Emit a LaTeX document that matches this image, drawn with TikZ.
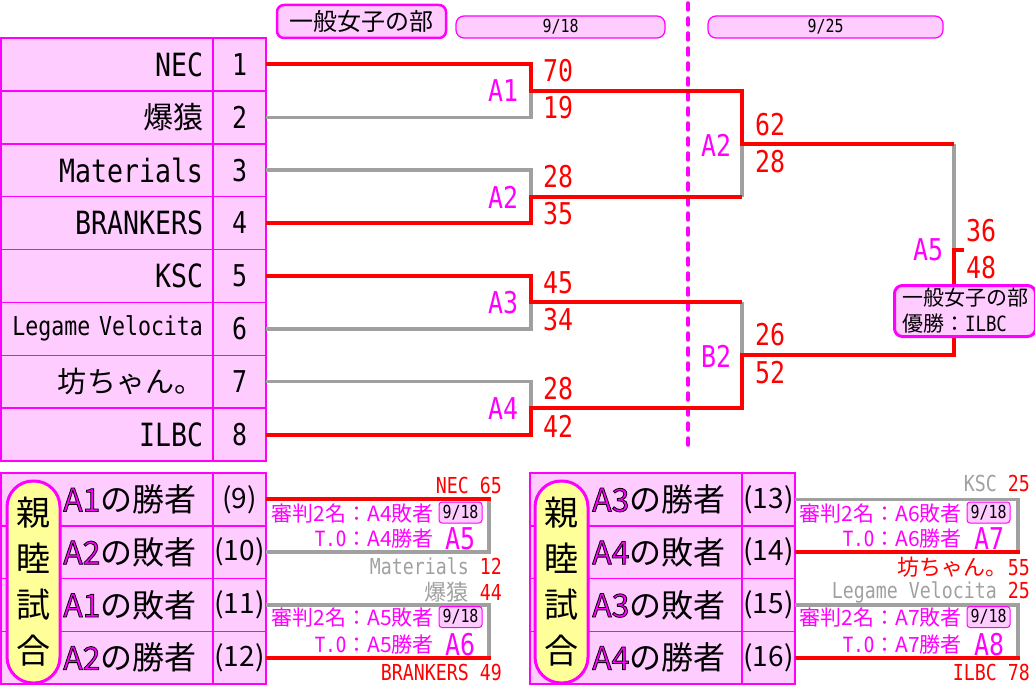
\documentclass[tikz,border=0pt]{standalone}
\usepackage{fontspec}
\setmainfont{Noto Sans CJK JP}
\newfontfamily\mono[FakeStretch=0.83]{DejaVu Sans Mono}
\newcommand\fs[1]{\fontsize{#1pt}{#1pt}\selectfont}
\definecolor{pinkf}{HTML}{FFCCFF}
\definecolor{mag}{HTML}{FF00FF}
\definecolor{rd}{HTML}{FF0000}
\definecolor{gry}{HTML}{A0A0A0}
\definecolor{yel}{HTML}{FFFF99}
\newcommand\olt[1]{\textcolor{mag}{\special{pdf:literal direct 0 0 0 RG 0.8 w 2 Tr}#1\special{pdf:literal direct 0 Tr}}}
\begin{document}
\begin{tikzpicture}[x=1pt,y=-1pt,
 ncell/.style={draw=mag, fill=pinkf, line width=1.5pt, minimum width=212pt, minimum height=52.875pt, inner sep=0pt, outer sep=0pt, text width=192pt, align=right},
 ccell/.style={draw=mag, fill=pinkf, line width=1.5pt, minimum width=53pt, minimum height=52.875pt, inner sep=0pt, outer sep=0pt, font=\mono\fs{30}},
 bcell/.style={draw=mag, fill=pinkf, line width=1.5pt, minimum width=212pt, minimum height=52.75pt, inner sep=0pt, outer sep=0pt},
 pcell/.style={draw=mag, fill=pinkf, line width=1.5pt, minimum width=53pt, minimum height=52.75pt, inner sep=0pt, outer sep=0pt, font=\fs{28}},
 capsule/.style={draw=mag, fill=yel, line width=3pt, rounded corners=26pt, minimum width=53pt, minimum height=202pt, inner sep=0pt},
 captext/.style={font=\fontsize{34pt}{46pt}\selectfont, align=center, inner sep=0pt},
 rowtext/.style={anchor=west, font=\fs{32}, inner sep=0pt},
 rl/.style={draw=rd, line width=4pt},
 gl/.style={draw=gry, line width=3.5pt},
 scoretxt/.style={anchor=west, text=rd, font=\mono\fs{30}, inner sep=0pt},
 mlabel/.style={text=mag, font=\mono\fs{30}, inner sep=0pt},
 hbox/.style={draw=mag, fill=pinkf, line width=2.5pt, rounded corners=7pt, minimum width=169pt, minimum height=33pt, inner sep=0pt, font=\fs{24}},
 dbox/.style={draw=mag, fill=pinkf, line width=1.2pt, rounded corners=8pt, minimum height=22pt, inner sep=0pt, font=\mono\fs{18}},
 sbox/.style={draw=mag, fill=pinkf, line width=1pt, rounded corners=3pt, minimum width=43pt, minimum height=21pt, inner sep=0pt, font=\mono\fs{18}},
 finbox/.style={draw=mag, fill=pinkf, line width=3pt, rounded corners=8pt, minimum width=141pt, minimum height=51pt, inner sep=0pt, align=left, font=\fontsize{21pt}{26pt}\selectfont},
 notetxt/.style={anchor=east, text=mag, font=\fs{21}, inner sep=0pt},
 sidelbl/.style={anchor=east, font=\mono\fs{22}, inner sep=0pt},
 dashline/.style={draw=mag, line width=3.5pt, dash pattern=on 7pt off 8pt, line cap=round}
]
\useasboundingbox (0,0) rectangle (1035,687);

% ---------- header ----------
\node[hbox] (hdr) at (361.5,21.5) {一般女子の部};
\node[dbox, minimum width=209pt] (d1) at (560.5,27) {9/18};
\node[dbox, minimum width=235pt] (d2) at (825.5,27) {9/25};

% ---------- top table ----------
\node[ncell, font=\mono\fs{32}] (n1) at (107,64.44) {NEC};
\node[ncell, font=\fs{30}] (n2) at (107,117.31) {爆猿};
\node[ncell, font=\mono\fs{32}] (n3) at (107,170.19) {Materials};
\node[ncell, font=\mono\fs{32}] (n4) at (107,223.06) {BRANKERS};
\node[ncell, font=\mono\fs{32}] (n5) at (107,275.94) {KSC};
\node[ncell, font=\mono\fs{26}] (n6) at (107,328.81) {Legame Velocita};
\node[ncell, font=\fs{29}] (n7) at (107,381.69) {坊ちゃん。};
\node[ncell, font=\mono\fs{32}] (n8) at (107,434.56) {ILBC};
\node[ccell] (s1) at (239.5,64.44) {1};
\node[ccell] (s2) at (239.5,117.31) {2};
\node[ccell] (s3) at (239.5,170.19) {3};
\node[ccell] (s4) at (239.5,223.06) {4};
\node[ccell] (s5) at (239.5,275.94) {5};
\node[ccell] (s6) at (239.5,328.81) {6};
\node[ccell] (s7) at (239.5,381.69) {7};
\node[ccell] (s8) at (239.5,434.56) {8};

% ---------- bracket junctions ----------
\coordinate (j1) at (531,90.88);
\coordinate (j2) at (531,196.63);
\coordinate (j3) at (531,302.38);
\coordinate (j4) at (531,408.13);
\coordinate (k1) at (742,143.75);
\coordinate (k2) at (742,355.25);
\coordinate (f) at (954,249.5);
\coordinate (fs) at (964,249.5);

\coordinate (dt) at (688,3);
\coordinate (db) at (688,452);
\draw[dashline] (dt) -- (db);

% losers (gray)
\draw[gl] (s2.east) -| (j1);
\draw[gl] (s3.east) -| (j2);
\draw[gl] (s6.east) -| (j3);
\draw[gl] (s7.east) -| (j4);
\draw[gl] (j2 -| k1) -- (k1);
\draw[gl] (j3 -| k2) -- (k2);
\draw[gl] (k1 -| f) -- (f);
% winners (red)
\draw[rl] (s1.east) -| (j1) -| (k1) -- (k1 -| f);
\draw[rl] (s4.east) -| (j2) -- (j2 -| k1);
\draw[rl] (s5.east) -| (j3) -- (j3 -| k2);
\draw[rl] (s8.east) -| (j4) -| (k2) -| (f) -- (fs);

% match labels
\node[mlabel] (m1) at (503,91) {A1};
\node[mlabel] (m2) at (503,197) {A2};
\node[mlabel] (m3) at (503,303) {A3};
\node[mlabel] (m4) at (503,409) {A4};
\node[mlabel] (m5) at (716,145) {A2};
\node[mlabel] (m6) at (716,356) {B2};
\node[mlabel] (m7) at (928,250) {A5};

% scores
\node[scoretxt] (c1) at (543,71) {70};
\node[scoretxt] (c2) at (543,108) {19};
\node[scoretxt] (c3) at (543,177) {28};
\node[scoretxt] (c4) at (543,214) {35};
\node[scoretxt] (c5) at (543,283) {45};
\node[scoretxt] (c6) at (543,320) {34};
\node[scoretxt] (c7) at (543,389) {28};
\node[scoretxt] (c8) at (543,426) {42};
\node[scoretxt] (c9) at (755,124.5) {62};
\node[scoretxt] (c10) at (755,162) {28};
\node[scoretxt] (c11) at (755,335) {26};
\node[scoretxt] (c12) at (755,373) {52};
\node[scoretxt] (c13) at (966,230.5) {36};
\node[scoretxt] (c14) at (966,268) {48};

\node[finbox, anchor=north west] (fin) at (893,284) {一般女子の部\\優勝：{\mono ILBC}};

% ---------- bottom-left table ----------
\node[bcell] (b1) at (107,499.38) {};
\node[bcell] (b2) at (107,552.13) {};
\node[bcell] (b3) at (107,604.88) {};
\node[bcell] (b4) at (107,657.63) {};
\node[pcell] (p1) at (239.5,499.38) {(9)};
\node[pcell] (p2) at (239.5,552.13) {(10)};
\node[pcell] (p3) at (239.5,604.88) {(11)};
\node[pcell] (p4) at (239.5,657.63) {(12)};
\node[capsule] (cap1) at (33.5,582) {};
\node[captext] (ct1) at (33.5,582) {親\\睦\\試\\合};
\node[rowtext] (bt1) at (63,499.38) {\olt{A1}の勝者};
\node[rowtext] (bt2) at (63,552.13) {\olt{A2}の敗者};
\node[rowtext] (bt3) at (63,604.88) {\olt{A1}の敗者};
\node[rowtext] (bt4) at (63,657.63) {\olt{A2}の勝者};

\coordinate (e5) at (489,525.75);
\coordinate (e6) at (489,631.25);
\draw[gl] (p2.east) -| (p1.east -| e5);
\draw[rl, shorten >=-1.75pt] (p1.east) -- (p1.east -| e5);
\draw[gl] (p3.east) -| (p4.east -| e6);
\draw[rl, shorten >=-1.75pt] (p4.east) -- (p4.east -| e6);

\node[sidelbl, text=rd] (w5) at (502,485) {NEC 65};
\node[sidelbl] (l5) at (502,566) {\color{gry}Materials \color{rd}12};
\node[sidelbl] (l6) at (502,592) {{\rmfamily\color{gry}爆猿} \color{rd}44};
\node[sidelbl, text=rd] (w6) at (502,672) {BRANKERS 49};

\node[notetxt] (r5a) at (434,514) {審判2名：A4敗者};
\node[sbox] (x5) at (460.5,512.5) {9/18};
\node[notetxt] (r5b) at (434,539) {{\mono T.O}：A4勝者};
\node[mlabel] (a5) at (460,539) {A5};
\node[notetxt] (r6a) at (434,618) {審判2名：A5敗者};
\node[sbox] (x6) at (460.5,617) {9/18};
\node[notetxt] (r6b) at (434,645) {{\mono T.O}：A5勝者};
\node[mlabel] (a6) at (460,645) {A6};

% ---------- bottom-right table ----------
\node[bcell] (b5) at (636,499.38) {};
\node[bcell] (b6) at (636,552.13) {};
\node[bcell] (b7) at (636,604.88) {};
\node[bcell] (b8) at (636,657.63) {};
\node[pcell] (q1) at (768.5,499.38) {(13)};
\node[pcell] (q2) at (768.5,552.13) {(14)};
\node[pcell] (q3) at (768.5,604.88) {(15)};
\node[pcell] (q4) at (768.5,657.63) {(16)};
\node[capsule] (cap2) at (561.5,582) {};
\node[captext] (ct2) at (561.5,582) {親\\睦\\試\\合};
\node[rowtext] (bt5) at (592,499.38) {\olt{A3}の勝者};
\node[rowtext] (bt6) at (592,552.13) {\olt{A4}の敗者};
\node[rowtext] (bt7) at (592,604.88) {\olt{A3}の敗者};
\node[rowtext] (bt8) at (592,657.63) {\olt{A4}の勝者};

\coordinate (e7) at (1018,525.75);
\coordinate (e8) at (1018,631.25);
\draw[gl] (q1.east) -| (q2.east -| e7);
\draw[rl, shorten >=-1.75pt] (q2.east) -- (q2.east -| e7);
\draw[gl] (q3.east) -| (q4.east -| e8);
\draw[rl, shorten >=-1.75pt] (q4.east) -- (q4.east -| e8);

\node[sidelbl] (w7) at (1030,483) {\color{gry}KSC \color{rd}25};
\node[sidelbl, text=rd] (l7) at (1030,567) {{\rmfamily 坊ちゃん。}55};
\node[sidelbl] (l8) at (1030,592) {\color{gry}Legame Velocita \color{rd}25};
\node[sidelbl, text=rd] (w8) at (1030,672) {ILBC 78};

\node[notetxt] (r7a) at (962,514) {審判2名：A6敗者};
\node[sbox] (x7) at (988.5,512.5) {9/18};
\node[notetxt] (r7b) at (962,539) {{\mono T.O}：A6勝者};
\node[mlabel] (a7) at (989,539) {A7};
\node[notetxt] (r8a) at (962,618) {審判2名：A7敗者};
\node[sbox] (x8) at (988.5,617) {9/18};
\node[notetxt] (r8b) at (962,645) {{\mono T.O}：A7勝者};
\node[mlabel] (a8) at (989,645) {A8};
\end{tikzpicture}
\end{document}
